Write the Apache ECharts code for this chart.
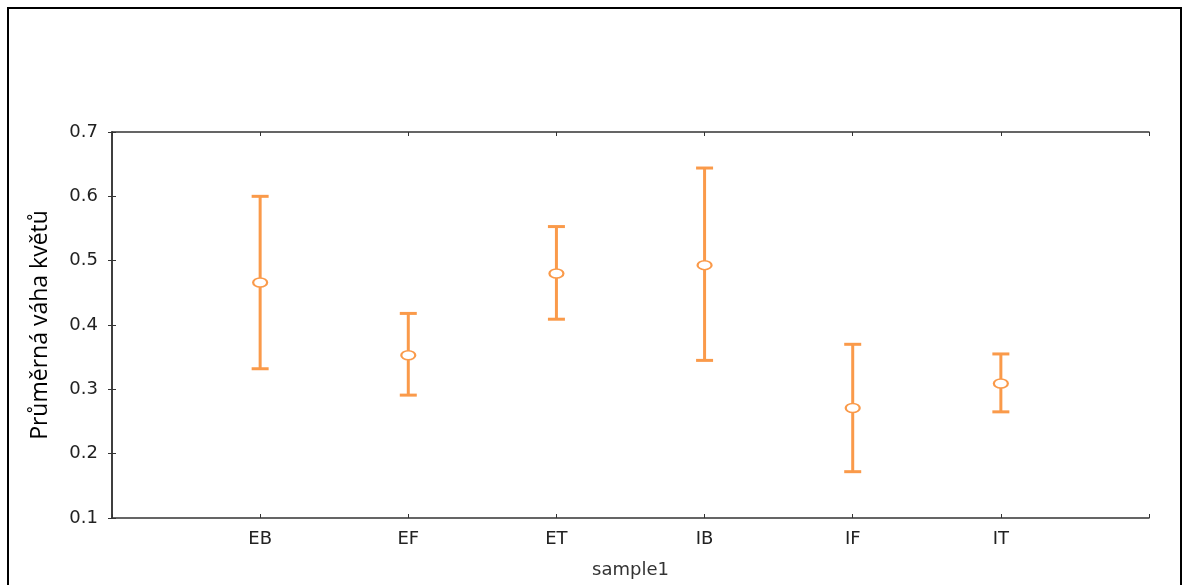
<!DOCTYPE html>
<html><head><meta charset="utf-8">
<script src="https://cdn.jsdelivr.net/npm/echarts@6/dist/echarts.min.js"></script>
<style>html,body{margin:0;padding:0;background:#fff}#c{width:1185px;height:585px}</style>
</head><body><div id="c"></div>
<script>
const categories = ['EB', 'EF', 'ET', 'IB', 'IF', 'IT'];
const means = [0.466, 0.353, 0.480, 0.493, 0.271, 0.309];
const lower = [0.332, 0.291, 0.409, 0.345, 0.172, 0.265];
const upper = [0.600, 0.418, 0.553, 0.644, 0.370, 0.355];
const yTicks = [0.1, 0.2, 0.3, 0.4, 0.5, 0.6, 0.7];

const ORANGE = '#FA9A4A';
const AXIS = '#333';
const chart = echarts.init(document.getElementById('c'), null, {renderer: 'canvas'});

const errData = categories.map((c, i) => [i + 1, lower[i], upper[i]]);
const meanData = categories.map((c, i) => [i + 1, means[i]]);

const axisCommon = {
  axisLine: {show: true, lineStyle: {color: AXIS, width: 1.5}},
  splitLine: {show: false}
};

chart.setOption({
  animation: false,
  grid: {left: 112, right: 36, top: 132, bottom: 67, containLabel: false},
  graphic: [{
    type: 'rect', shape: {x: 8, y: 8, width: 1173, height: 600},
    style: {fill: 'none', stroke: '#000', lineWidth: 2}, silent: true
  }],
  xAxis: [{
    type: 'value', min: 0, max: categories.length + 1, interval: 1, position: 'bottom',
    ...axisCommon,
    axisTick: {show: true, inside: true, length: 4, lineStyle: {color: AXIS}},
    axisLabel: {
      margin: 12, color: '#222', fontFamily: 'DejaVu Sans', fontSize: 18,
      formatter: v => (v >= 1 && v <= categories.length) ? categories[v - 1] : ''
    },
    name: 'sample1', nameLocation: 'middle', nameGap: 43,
    nameTextStyle: {color: '#333', fontFamily: 'DejaVu Sans', fontSize: 18}
  }, {
    type: 'value', min: 0, max: categories.length + 1, interval: 1, position: 'top',
    ...axisCommon,
    axisTick: {show: true, inside: true, length: 4, lineStyle: {color: AXIS}},
    axisLabel: {show: false}
  }],
  yAxis: [{
    type: 'value', min: yTicks[0], max: yTicks[yTicks.length - 1], interval: 0.1, position: 'left',
    ...axisCommon,
    axisTick: {show: true, inside: true, length: 4, lineStyle: {color: AXIS}},
    axisLabel: {
      margin: 14, color: '#222', fontFamily: 'DejaVu Sans', fontSize: 18,
      formatter: v => v.toFixed(1)
    },
    name: 'Průměrná váha květů', nameLocation: 'middle', nameGap: 60, nameRotate: 90,
    nameTextStyle: {color: '#000', fontFamily: 'Open Sans', fontSize: 23}
  }, {
    type: 'value', min: yTicks[0], max: yTicks[yTicks.length - 1], interval: 0.1, position: 'right',
    ...axisCommon,
    axisTick: {show: true, inside: true, length: 4, lineStyle: {color: AXIS}},
    axisLabel: {show: false}
  }],
  series: [{
    type: 'custom',
    data: errData,
    renderItem: function (params, api) {
      const x = api.value(0);
      const lo = api.coord([x, api.value(1)]);
      const hi = api.coord([x, api.value(2)]);
      const hw = 8.5;
      const st = {stroke: ORANGE, lineWidth: 3, fill: 'none'};
      return {
        type: 'group',
        children: [
          {type: 'line', shape: {x1: lo[0], y1: lo[1], x2: hi[0], y2: hi[1]}, style: st},
          {type: 'line', shape: {x1: lo[0] - hw, y1: lo[1], x2: lo[0] + hw, y2: lo[1]}, style: st},
          {type: 'line', shape: {x1: hi[0] - hw, y1: hi[1], x2: hi[0] + hw, y2: hi[1]}, style: st}
        ]
      };
    },
    z: 2
  }, {
    type: 'scatter',
    data: meanData,
    symbol: 'circle',
    symbolSize: [14, 9],
    itemStyle: {color: '#fff', borderColor: ORANGE, borderWidth: 1.8, opacity: 1},
    z: 3
  }]
});
</script></body></html>
